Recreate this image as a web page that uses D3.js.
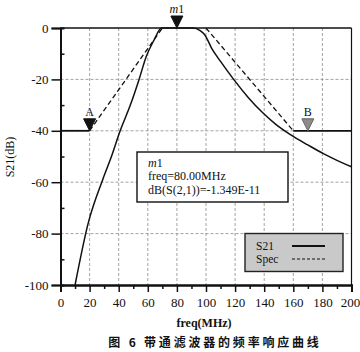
<!DOCTYPE html>
<html>
<head>
<meta charset="utf-8">
<script src="https://cdn.jsdelivr.net/npm/d3@7"></script>
<style>
  body { margin: 0; background: #fff; }
  text { font-family: "Liberation Serif", "DejaVu Serif", serif; fill: #111; }
</style>
</head>
<body>
<svg id="chart" width="360" height="352"></svg>
<script>
// S21 response (MHz, dB)
const s21Freq = [10, 19, 29, 35, 41, 48, 54, 59, 64, 69.5, 91, 96, 99, 104, 110, 119, 129, 139, 148, 158, 170, 181, 190, 200];
const s21Db   = [-100, -76, -59, -50, -40, -30, -20, -11, -5, 0, 0, -1, -2.5, -8, -13, -20, -27, -33, -37.5, -41.5, -45.5, -49, -51.5, -54];

// Spec mask: dashed skirts, solid stopband limits
const specLeftFreq = [20, 70];
const specLeftDb = [-40, 0];
const specRightFreq = [100, 160];
const specRightDb = [0, -40];
const stopLeftFreq = [0, 20];
const stopRightFreq = [160, 200];
const stopDb = -40;

const markerNames = ["A", "m1", "B"];
const markerFreq = [20, 80, 170];
const markerDb = [-40, 0, -40];

const xTicks = [0, 20, 40, 60, 80, 100, 120, 140, 160, 180, 200];
const xMinor = [10, 30, 50, 70, 90, 110, 130, 150, 170, 190];
const yTicks = [0, -20, -40, -60, -80, -100];
const yMinor = [-10, -30, -50, -70, -90];

const readout = ["freq=80.00MHz", "dB(S(2,1))=-1.349E-11"];

const svg = d3.select("#chart");
const x = d3.scaleLinear().domain([0, 200]).range([60.5, 351.5]);
const y = d3.scaleLinear().domain([-100, 0]).range([285, 28]);

// grid
const grid = svg.append("g").attr("stroke", "#8a8a8a").attr("stroke-width", 0.8).attr("stroke-dasharray", "3,2");
grid.selectAll(".gv").data(xTicks.slice(1, -1)).enter().append("line")
  .attr("x1", d => x(d)).attr("x2", d => x(d)).attr("y1", y(0)).attr("y2", y(-100));
grid.selectAll(".gh").data(yTicks.slice(1, -1)).enter().append("line")
  .attr("x1", x(0)).attr("x2", x(200)).attr("y1", d => y(d)).attr("y2", d => y(d));

// axes
const xAxis = svg.append("g").attr("transform", `translate(0,${y(-100)})`)
  .call(d3.axisBottom(x).tickValues(xTicks).tickSize(7).tickPadding(6).tickFormat(d3.format("d")));
xAxis.selectAll(".tick text").filter(d => d === 200).attr("dx", "-1.5");
svg.append("g").attr("transform", `translate(0,${y(-100)})`)
  .call(d3.axisBottom(x).tickValues(xMinor).tickSize(4).tickFormat(""));
const yAxis = svg.append("g").attr("transform", `translate(${x(0)},0)`)
  .call(d3.axisLeft(y).tickValues(yTicks).tickSize(9).tickPadding(3).tickFormat(d => d === 0 ? "0" : "-" + Math.abs(d)));
svg.append("g").attr("transform", `translate(${x(0)},0)`)
  .call(d3.axisLeft(y).tickValues(yMinor).tickSize(-4).tickFormat(""));
svg.selectAll(".domain").attr("stroke", "#111").attr("stroke-width", 2);
svg.selectAll(".tick line").attr("stroke", "#111").attr("stroke-width", 1.5);
svg.selectAll(".tick text").style("font-family", "Liberation Serif, serif").style("font-size", "13px").attr("fill", "#111");

// top line at 0 dB and right border
svg.append("line").attr("x1", x(0)).attr("x2", x(200)).attr("y1", y(0)).attr("y2", y(0))
  .attr("stroke", "#111").attr("stroke-width", 1.6);
svg.append("line").attr("x1", x(200)).attr("x2", x(200)).attr("y1", y(0)).attr("y2", y(-100))
  .attr("stroke", "#111").attr("stroke-width", 1.2);

// stopband limits
[stopLeftFreq, stopRightFreq].forEach(f => {
  svg.append("line").attr("x1", x(f[0])).attr("x2", x(f[1])).attr("y1", y(stopDb)).attr("y2", y(stopDb))
    .attr("stroke", "#111").attr("stroke-width", 1.8);
});

const line = d3.line().x(d => x(d[0])).y(d => y(d[1]));

// spec skirts
[[specLeftFreq, specLeftDb], [specRightFreq, specRightDb]].forEach(([f, v]) => {
  svg.append("path").datum(d3.zip(f, v)).attr("d", line)
    .attr("fill", "none").attr("stroke", "#111").attr("stroke-width", 1.3).attr("stroke-dasharray", "5,3");
});

// S21 curve
svg.append("path").datum(d3.zip(s21Freq, s21Db)).attr("d", line.curve(d3.curveMonotoneX))
  .attr("fill", "none").attr("stroke", "#111").attr("stroke-width", 1.5);

// markers
markerNames.forEach((name, i) => {
  const cx = x(markerFreq[i]), cy = y(markerDb[i]);
  const gray = name === "B";
  svg.append("path")
    .attr("d", `M${cx - 6},${cy - 12}L${cx + 6},${cy - 12}L${cx},${cy}Z`)
    .attr("fill", gray ? "#8c8c8c" : "#111").attr("stroke", gray ? "#666" : "#111").attr("stroke-width", 1);
  svg.append("text").attr("x", cx).attr("y", cy - 15).attr("text-anchor", "middle")
    .style("font-size", "12px")
    .html(name === "m1" ? '<tspan font-style="italic">m</tspan>1' : name);
});

// marker readout box
svg.append("rect").attr("x", 137).attr("y", 152).attr("width", 151).attr("height", 50)
  .attr("fill", "#fff").attr("stroke", "#111").attr("stroke-width", 1.4);
svg.append("text").attr("x", 148).attr("y", 167).style("font-size", "12px")
  .html('<tspan font-style="italic">m</tspan>1');
readout.forEach((t, i) => {
  svg.append("text").attr("x", 148).attr("y", 180 + i * 13.5).style("font-size", "12px").text(t);
});

// legend
svg.append("rect").attr("x", 245).attr("y", 233.5).attr("width", 98).attr("height", 38)
  .attr("fill", "#c9c9c9").attr("stroke", "#222").attr("stroke-width", 1.4);
svg.append("text").attr("x", 256).attr("y", 250).style("font-size", "11.5px").text("S21");
svg.append("text").attr("x", 256).attr("y", 263).style("font-size", "11.5px").text("Spec");
svg.append("line").attr("x1", 292).attr("x2", 325).attr("y1", 246).attr("y2", 246)
  .attr("stroke", "#111").attr("stroke-width", 2);
svg.append("line").attr("x1", 292).attr("x2", 325).attr("y1", 259).attr("y2", 259)
  .attr("stroke", "#111").attr("stroke-width", 1.2).attr("stroke-dasharray", "3,2");

// axis titles
svg.append("text").attr("x", 204).attr("y", 327).attr("text-anchor", "middle")
  .style("font-size", "12px").style("font-weight", "bold").text("freq(MHz)");
svg.append("text").attr("transform", "translate(14,157) rotate(-90)").attr("text-anchor", "middle")
  .style("font-size", "12px").text("S21(dB)");

// caption
svg.append("text").attr("x", 215).attr("y", 347).attr("text-anchor", "middle")
  .style("font-family", "Noto Sans CJK SC, sans-serif").style("font-size", "12px").style("font-weight", "bold")
  .attr("letter-spacing", "2.8").text("图 6  带通滤波器的频率响应曲线");
</script>
</body>
</html>
